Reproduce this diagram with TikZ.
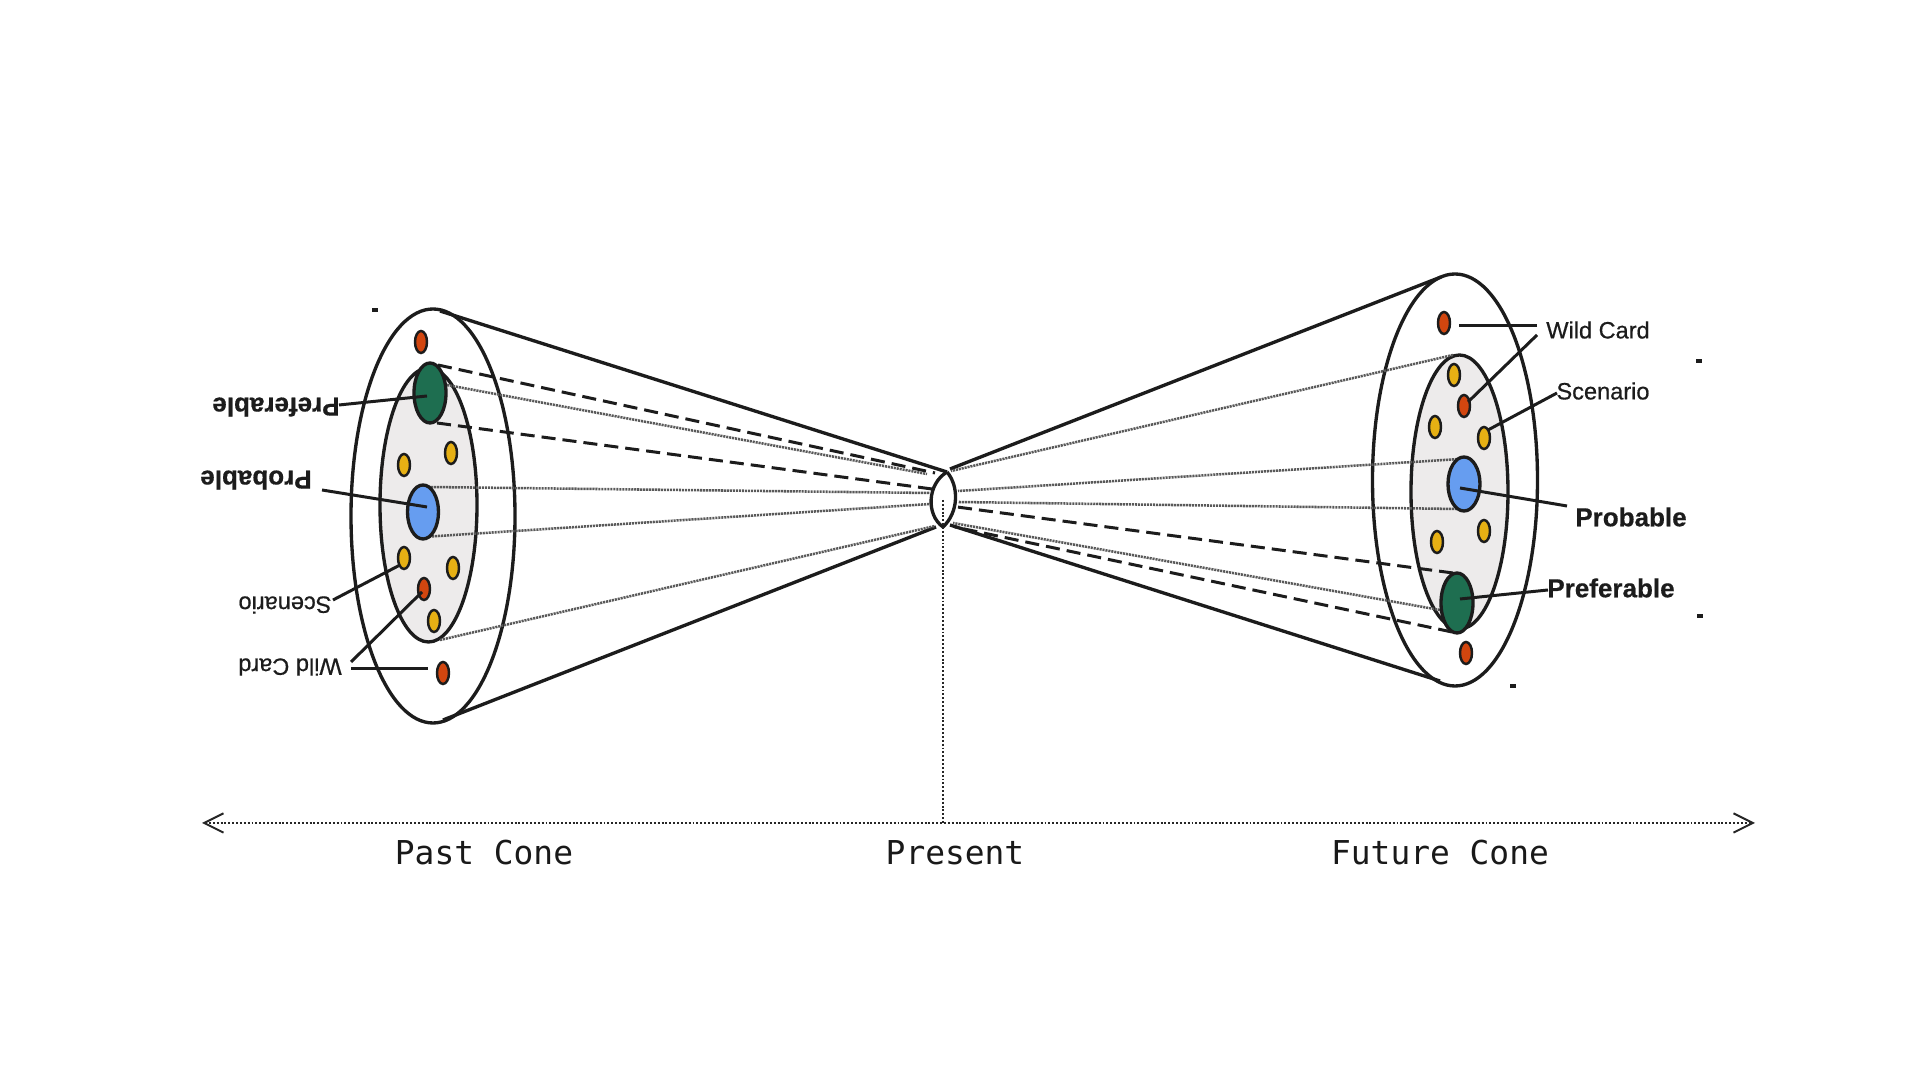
\documentclass[tikz,border=0pt]{standalone}
\usepackage{fontspec}
\setmainfont{Liberation Sans}
\newfontfamily\axisfont{DejaVu Sans Mono}
\newfontfamily\medfont[FakeBold=0.6]{Liberation Sans}
\newfontfamily\heavyfont[FakeBold=0.5]{Liberation Sans Bold}
\usetikzlibrary{shapes.geometric,arrows.meta}
\definecolor{discfill}{HTML}{EDEBEB}
\definecolor{greenspot}{HTML}{1E6E50}
\definecolor{bluespot}{HTML}{669DF0}
\definecolor{redspot}{HTML}{D2460F}
\definecolor{yellowspot}{HTML}{E6B014}
\definecolor{inkline}{HTML}{1C1C1C}
\tikzset{
  ell/.style 2 args={ellipse,inner sep=0pt,outer sep=0pt,minimum width=#1*0.01cm,minimum height=#2*0.01cm},
  rim/.style 2 args={ell={#1}{#2},draw=inkline,line width=0.95pt},
  bigspot/.style 2 args={ell={#1}{#2},draw=inkline,line width=0.95pt},
  dotspot/.style={ell={12}{22},draw=inkline,line width=0.7pt},
  cone/.style={draw=inkline,line width=0.95pt},
  dashray/.style={draw=inkline,line width=0.85pt,dash pattern=on 4pt off 2pt},
  greyray/.style={draw=black!65,line width=0.72pt,dash pattern=on 0.6pt off 0.25pt},
  leader/.style={draw=inkline,line width=0.85pt},
  axisline/.style={draw=black!85,line width=0.55pt,dash pattern=on 0.55pt off 0.55pt},
  boldlabel/.style={inner sep=0pt,font=\fontsize{7.4}{9}\selectfont\heavyfont,text=inkline},
  plainlabel/.style={inner sep=0pt,font=\fontsize{6.7}{8}\selectfont\medfont,text=inkline},
  axislabel/.style={inner sep=0pt,font=\fontsize{9.35}{11}\selectfont\axisfont,text=black!90},
  speck/.style={fill=inkline,draw=none,inner sep=0pt,minimum width=0.055cm,minimum height=0.035cm,rectangle}
}
\begin{document}
\begin{tikzpicture}[x=0.01cm,y=-0.01cm]
\useasboundingbox (0,0) rectangle (1920,1080);
\fill[white] (0,0) rectangle (1920,1080);

% discs
\node[ell={97}{274},fill=discfill] (pastfill) at (428.5,505) {};
\node[ell={97}{274},fill=discfill] (futfill) at (1459.5,492) {};
\node[rim={164}{414}] (pastouter) at (433,516) {};
\node[rim={97}{274}] (pastinner) at (428.5,505) {};
\node[rim={165}{412}] (futouter) at (1455,480) {};
\node[rim={97}{274}] (futinner) at (1459.5,492) {};

% present lens
\coordinate (lensT) at (947,472);
\coordinate (lensB) at (943,527);
\draw[cone] (lensT) .. controls (927,484) and (926,515) .. (lensB);
\draw[cone] (lensT) .. controls (959,486) and (959,512) .. (lensB);

% endpoints: cone edges
\coordinate (cPT) at (440,311); \coordinate (cPTe) at (947,472);
\coordinate (cPB) at (443,720); \coordinate (cPBe) at (936,527);
\coordinate (cFT) at (1441,277); \coordinate (cFTe) at (950,469);
\coordinate (cFB) at (1440,681); \coordinate (cFBe) at (950,525);
\draw[cone] (cPT) -- (cPTe);
\draw[cone] (cPB) -- (cPBe);
\draw[cone] (cFT) -- (cFTe);
\draw[cone] (cFB) -- (cFBe);

% rays, past side
\coordinate (pd1) at (438,365); \coordinate (pd1e) at (935,473);
\coordinate (pd2) at (437,423); \coordinate (pd2e) at (932,489);
\coordinate (pg1) at (447,385); \coordinate (pg1e) at (927,474);
\coordinate (pg2) at (428,487); \coordinate (pg2e) at (930,493);
\coordinate (pg3) at (423,537); \coordinate (pg3e) at (930,504);
\coordinate (pg4) at (440,640); \coordinate (pg4e) at (935,526);
\draw[dashray] (pd1) -- (pd1e);
\draw[dashray] (pd2) -- (pd2e);
\draw[greyray] (pg1) -- (pg1e);
\draw[greyray] (pg2) -- (pg2e);
\draw[greyray] (pg3) -- (pg3e);
\draw[greyray] (pg4) -- (pg4e);

% rays, future side
\coordinate (fg1) at (1453,355); \coordinate (fg1e) at (951,471);
\coordinate (fg2) at (1460,459); \coordinate (fg2e) at (958,491);
\coordinate (fg3) at (1457,509); \coordinate (fg3e) at (958,502);
\coordinate (fg4) at (1440,610); \coordinate (fg4e) at (953,523);
\coordinate (fd1) at (1453,573); \coordinate (fd1e) at (957,507);
\coordinate (fd2) at (1452,632); \coordinate (fd2e) at (955,527);
\draw[greyray] (fg1) -- (fg1e);
\draw[greyray] (fg2) -- (fg2e);
\draw[greyray] (fg3) -- (fg3e);
\draw[greyray] (fg4) -- (fg4e);
\draw[dashray] (fd1) -- (fd1e);
\draw[dashray] (fd2) -- (fd2e);

% big spots
\node[bigspot={32}{60},fill=greenspot] (pgreen) at (430,393) {};
\node[bigspot={31}{54},fill=bluespot] (pblue) at (423,512) {};
\node[bigspot={32}{60},fill=greenspot] (fgreen) at (1457,603) {};
\node[bigspot={32}{54},fill=bluespot] (fblue) at (1464,484) {};

% small spots, past
\node[dotspot,fill=redspot] (pr1) at (421,342) {};
\node[dotspot,fill=yellowspot] (py1) at (451,453) {};
\node[dotspot,fill=yellowspot] (py2) at (404,465) {};
\node[dotspot,fill=yellowspot] (py3) at (404,558) {};
\node[dotspot,fill=yellowspot] (py4) at (453,568) {};
\node[dotspot,fill=redspot] (pr2) at (424,589) {};
\node[dotspot,fill=yellowspot] (py5) at (434,621) {};
\node[dotspot,fill=redspot] (pr3) at (443,673) {};

% small spots, future
\node[dotspot,fill=redspot] (fr1) at (1444,323) {};
\node[dotspot,fill=yellowspot] (fy1) at (1454,375) {};
\node[dotspot,fill=redspot] (fr2) at (1464,406) {};
\node[dotspot,fill=yellowspot] (fy2) at (1435,427) {};
\node[dotspot,fill=yellowspot] (fy3) at (1484,438) {};
\node[dotspot,fill=yellowspot] (fy4) at (1484,531) {};
\node[dotspot,fill=yellowspot] (fy5) at (1437,542) {};
\node[dotspot,fill=redspot] (fr3) at (1466,653) {};

% labels, past (upside down)
\node[boldlabel,rotate=180] (lpPref) at (276,407) {Preferable};
\node[boldlabel,rotate=180] (lpProb) at (256,480) {Probable};
\node[plainlabel,rotate=180] (lpScen) at (285,605) {Scenario};
\node[plainlabel,rotate=180] (lpWild) at (290,667) {Wild Card};

% labels, future
\node[plainlabel] (lfWild) at (1598,330) {Wild Card};
\node[plainlabel] (lfScen) at (1603,391) {Scenario};
\node[boldlabel] (lfProb) at (1631,517) {Probable};
\node[boldlabel] (lfPref) at (1611,588) {Preferable};

% leaders, past
\coordinate (a1) at (339,405); \coordinate (a2) at (427,396);
\coordinate (b1) at (322,490); \coordinate (b2) at (427,507);
\coordinate (c1) at (333,600); \coordinate (c2) at (400,565);
\coordinate (d1) at (351,662); \coordinate (d2) at (422,592);
\coordinate (e1) at (351,669); \coordinate (e2) at (428,669);
\draw[leader] (a1) -- (a2);
\draw[leader] (b1) -- (b2);
\draw[leader] (c1) -- (c2);
\draw[leader] (d1) -- (d2);
\draw[leader] (e1) -- (e2);

% leaders, future
\coordinate (f1) at (1537,326); \coordinate (f2) at (1459,326);
\coordinate (g1) at (1537,335); \coordinate (g2) at (1468,402);
\coordinate (h1) at (1557,393); \coordinate (h2) at (1488,430);
\coordinate (i1) at (1567,506); \coordinate (i2) at (1460,488);
\coordinate (j1) at (1548,590); \coordinate (j2) at (1460,599);
\draw[leader] (f1) -- (f2);
\draw[leader] (g1) -- (g2);
\draw[leader] (h1) -- (h2);
\draw[leader] (i1) -- (i2);
\draw[leader] (j1) -- (j2);

% specks
\node[speck] (s1) at (375,310) {};
\node[speck] (s2) at (1699,361) {};
\node[speck] (s3) at (1700,616) {};
\node[speck] (s4) at (1513,686) {};

% timeline
\coordinate (axL) at (202,823);
\coordinate (axR) at (1755,823);
\coordinate (axM) at (943,823);
\coordinate (axT) at (943,500);
\draw[axisline,{Straight Barb[length=5.5pt,width=5.5pt,line width=0.55pt]}-{Straight Barb[length=5.5pt,width=5.5pt,line width=0.55pt]}] (axL) -- (axR);
\draw[axisline] (axT) -- (axM);

\node[axislabel] (lPast) at (484,853) {Past Cone};
\node[axislabel] (lPres) at (955,853) {Present};
\node[axislabel] (lFut) at (1440,853) {Future Cone};
\end{tikzpicture}
\end{document}
